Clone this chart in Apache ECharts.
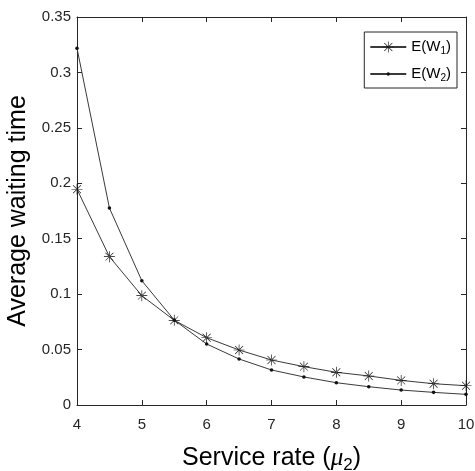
<!DOCTYPE html>
<html>
<head>
<meta charset="utf-8">
<style>
  html, body { margin: 0; padding: 0; background: #fff; }
  #chart { width: 475px; height: 471px; }
</style>
<script src="https://cdn.jsdelivr.net/npm/echarts@6/dist/echarts.min.js"></script>
</head>
<body>
<div id="chart"></div>
<script>
var serviceRate = [4, 4.5, 5, 5.5, 6, 6.5, 7, 7.5, 8, 8.5, 9, 9.5, 10];
var waitW1 = [0.1946, 0.1338, 0.0986, 0.0764, 0.0607, 0.0496, 0.0406, 0.0346, 0.0295, 0.0262, 0.0222, 0.0192, 0.0174];
var waitW2 = [0.3218, 0.1777, 0.1121, 0.0766, 0.0550, 0.0415, 0.0316, 0.0253, 0.0201, 0.0165, 0.0135, 0.0114, 0.0096];
var seriesNames = ['E(W_1)', 'E(W_2)'];
var xTicks = { min: 4, max: 10, step: 1 };
var yTicks = { min: 0, max: 0.35, step: 0.05 };

(function () {
  'use strict';

  var FONT = 'Arial, "Liberation Sans", Helvetica, sans-serif';
  var AXIS = '#262626';
  var LINE = '#3a3a3a';

  // MATLAB style '*' marker: four thin bars
  var ASTERISK = 'path://M-0.6,-10L0.6,-10L0.6,10L-0.6,10Z' +
    'M-10,-0.6L10,-0.6L10,0.6L-10,0.6Z' +
    'M-7.6,-6.8L6.8,7.6L7.6,6.8L-6.8,-7.6Z' +
    'M-6.8,7.6L7.6,-6.8L6.8,-7.6L-7.6,6.8Z';
  // '.' marker: small dot padded inside a 20x20 box so the legend keeps it small
  var DOT = 'path://M-10,-10M10,10' +
    'M0,-3A3,3 0 1,1 0,3A3,3 0 1,1 0,-3Z';

  function pairs(xs, ys) {
    return xs.map(function (x, i) { return [x, ys[i]]; });
  }

  function axisBase(showLabels) {
    return {
      axisLine: { show: true, onZero: false, lineStyle: { color: AXIS, width: 1 } },
      axisTick: { show: true, inside: true, length: 5, lineStyle: { color: AXIS } },
      splitLine: { show: false },
      axisLabel: { show: showLabels, color: AXIS, fontSize: 15, fontFamily: FONT }
    };
  }

  function xAxis(pos, showLabels) {
    return Object.assign(axisBase(showLabels), {
      type: 'value', position: pos,
      min: xTicks.min, max: xTicks.max, interval: xTicks.step
    });
  }

  function yAxis(pos, showLabels) {
    return Object.assign(axisBase(showLabels), {
      type: 'value', position: pos,
      min: yTicks.min, max: yTicks.max, interval: yTicks.step
    });
  }

  var bottomX = xAxis('bottom', true);
  bottomX.axisLabel.margin = 12;
  bottomX.name = 'Service rate ({i|μ}{s|2})';
  bottomX.nameLocation = 'middle';
  bottomX.nameGap = 37;
  bottomX.nameTextStyle = {
    color: '#000', fontSize: 25, fontFamily: FONT,
    rich: {
      i: { fontSize: 25, fontFamily: '"Liberation Serif", serif', fontStyle: 'italic', color: '#000' },
      s: { fontSize: 17, fontFamily: FONT, color: '#000', padding: [15, 0, 0, 0] }
    }
  };

  var leftY = yAxis('left', true);
  leftY.axisLabel.margin = 6;
  leftY.axisLabel.formatter = function (v) { return String(+v.toFixed(2)); };
  leftY.name = 'Average waiting time';
  leftY.nameLocation = 'middle';
  leftY.nameGap = 36;
  leftY.nameTextStyle = { color: '#000', fontSize: 25, fontFamily: FONT };

  var chart = echarts.init(document.getElementById('chart'), null, { renderer: 'canvas' });
  chart.setOption({
    animation: false,
    backgroundColor: '#fff',
    grid: { left: 77, right: 9, top: 17, bottom: 66, containLabel: false, outerBoundsMode: 'none' },
    legend: {
      orient: 'vertical',
      right: 18,
      top: 32,
      padding: [5, 6, 4, 5],
      itemGap: 7,
      itemWidth: 36,
      itemHeight: 14,
      borderColor: AXIS,
      borderWidth: 1,
      backgroundColor: '#fff',
      data: seriesNames,
      formatter: function (name) { return name.replace(/_(\d)/, '{s|$1}'); },
      textStyle: {
        color: '#000', fontSize: 15, fontFamily: FONT, lineHeight: 20,
        rich: { s: { fontSize: 10, fontFamily: FONT, color: '#000', padding: [9, 0, 0, 0] } }
      }
    },
    xAxis: [bottomX, xAxis('top', false)],
    yAxis: [leftY, yAxis('right', false)],
    series: [
      {
        name: seriesNames[0], type: 'line', xAxisIndex: 0, yAxisIndex: 0,
        data: pairs(serviceRate, waitW1),
        symbol: ASTERISK, symbolSize: 11, showAllSymbol: true,
        lineStyle: { color: LINE, width: 1 },
        itemStyle: { color: '#111' }
      },
      {
        name: seriesNames[1], type: 'line', xAxisIndex: 0, yAxisIndex: 0,
        data: pairs(serviceRate, waitW2),
        symbol: DOT, symbolSize: 12, showAllSymbol: true,
        lineStyle: { color: LINE, width: 1 },
        itemStyle: { color: '#111' }
      }
    ]
  });
})();
</script>
</body>
</html>
